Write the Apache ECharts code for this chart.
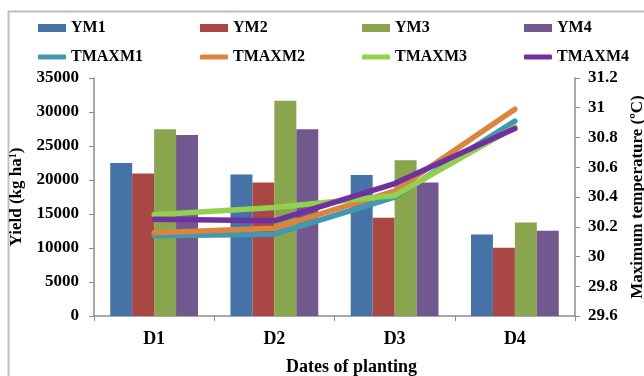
<!DOCTYPE html>
<html>
<head>
<meta charset="utf-8">
<script src="https://cdn.jsdelivr.net/npm/echarts@6/dist/echarts.min.js"></script>
<style>
  html, body { margin: 0; padding: 0; background: #fff; }
  #chart { width: 644px; height: 376px; }
</style>
</head>
<body>
<div id="chart"></div>
<script>
// Planting dates
const dates = ['D1', 'D2', 'D3', 'D4'];

// Yield (kg/ha) per model
const ym1 = [22500, 20800, 20750, 12000];
const ym2 = [20950, 19650, 14450, 10050];
const ym3 = [27450, 31650, 22900, 13750];
const ym4 = [26600, 27450, 19650, 12550];

// Maximum temperature (°C) per model
const tmaxm1 = [30.14, 30.15, 30.40, 30.91];
const tmaxm2 = [30.16, 30.19, 30.44, 30.99];
const tmaxm3 = [30.28, 30.33, 30.41, 30.87];
const tmaxm4 = [30.25, 30.24, 30.49, 30.86];

const barNames = ['YM1', 'YM2', 'YM3', 'YM4'];
const lineNames = ['TMAXM1', 'TMAXM2', 'TMAXM3', 'TMAXM4'];
const barValues = [ym1, ym2, ym3, ym4];
const lineValues = [tmaxm1, tmaxm2, tmaxm3, tmaxm4];
const barColors = ['#4572A7', '#AA4643', '#89A54E', '#71588F'];
const lineColors = ['#4198AF', '#DB843D', '#92D050', '#7030A0'];

const FONT = 'Liberation Serif';
const AXIS_GRAY = '#8c8c8c';

const chart = echarts.init(document.getElementById('chart'), null, { renderer: 'canvas' });

// One legend block per entry so the columns line up in a fixed grid
const legendX = [33, 195, 357, 519];
const legendText = { fontFamily: FONT, fontWeight: 'bold', fontSize: 16, color: '#000' };
const legends = [];
barNames.forEach((n, i) => legends.push({
  data: [n], left: legendX[i], top: 15, icon: 'rect',
  itemWidth: 28, itemHeight: 8, itemGap: 0, textStyle: legendText
}));
lineNames.forEach((n, i) => legends.push({
  data: [n], left: legendX[i], top: 44, icon: 'roundRect',
  itemWidth: 28, itemHeight: 5, itemGap: 0, textStyle: legendText
}));

const series = [];
barNames.forEach((n, i) => series.push({
  name: n, type: 'bar', yAxisIndex: 0, data: barValues[i],
  barGap: '0%', barCategoryGap: '27%',
  itemStyle: { color: barColors[i] }
}));
lineNames.forEach((n, i) => series.push({
  name: n, type: 'line', yAxisIndex: 1, data: lineValues[i],
  symbol: 'none', z: 3,
  lineStyle: { color: lineColors[i], width: 5.5, cap: 'round', join: 'round' },
  itemStyle: { color: lineColors[i] }
}));

const tickLabel = { fontFamily: FONT, fontWeight: 'bold', fontSize: 17, color: '#000' };
const titleText = { fontFamily: FONT, fontWeight: 'bold', fontSize: 17, color: '#000' };

chart.setOption({
  animation: false,
  legend: legends,
  grid: { left: 94, right: 69, top: 78, bottom: 60, containLabel: false, outerBoundsMode: 'none' },
  graphic: [{
    type: 'rect', left: 6, top: 9, silent: true,
    shape: { x: 0, y: 0, width: 700, height: 400 },
    style: { fill: 'none', stroke: '#bfbfbf', lineWidth: 2 }
  }],
  xAxis: {
    type: 'category', data: dates, boundaryGap: true,
    axisLine: { lineStyle: { color: AXIS_GRAY, width: 1.5 } },
    axisTick: { show: true, interval: 0, length: 5, lineStyle: { color: AXIS_GRAY } },
    axisLabel: { ...tickLabel, fontSize: 18, margin: 14 },
    name: 'Dates of planting', nameLocation: 'middle', nameGap: 42,
    nameTextStyle: { ...titleText, fontSize: 18, padding: [0, 0, 0, 34] }
  },
  yAxis: [{
    type: 'value', min: 0, max: 35000, interval: 5000, position: 'left',
    axisLine: { show: true, lineStyle: { color: AXIS_GRAY, width: 1.5 } },
    axisTick: { show: true, length: 5, lineStyle: { color: AXIS_GRAY } },
    splitLine: { show: false },
    axisLabel: { ...tickLabel, margin: 15, formatter: v => String(v) },
    name: '{a|Yield (kg ha}{s|1}{a|)}', nameLocation: 'middle', nameGap: 48, nameRotate: 90,
    nameTextStyle: {
      rich: {
        a: titleText,
        s: { ...titleText, fontSize: 10, padding: [0, 0, 8, 0] }
      }
    }
  }, {
    type: 'value', min: 29.6, max: 31.2, interval: 0.2, position: 'right',
    axisLine: { show: true, lineStyle: { color: AXIS_GRAY, width: 1.5 } },
    axisTick: { show: true, length: 5, lineStyle: { color: AXIS_GRAY } },
    splitLine: { show: false },
    axisLabel: { ...tickLabel, margin: 13, formatter: v => String(Math.round(v * 10) / 10) },
    name: 'Maximum temperature (ºC)', nameLocation: 'middle', nameGap: 54, nameRotate: 90,
    nameTextStyle: titleText
  }],
  series: series
});
</script>
</body>
</html>
